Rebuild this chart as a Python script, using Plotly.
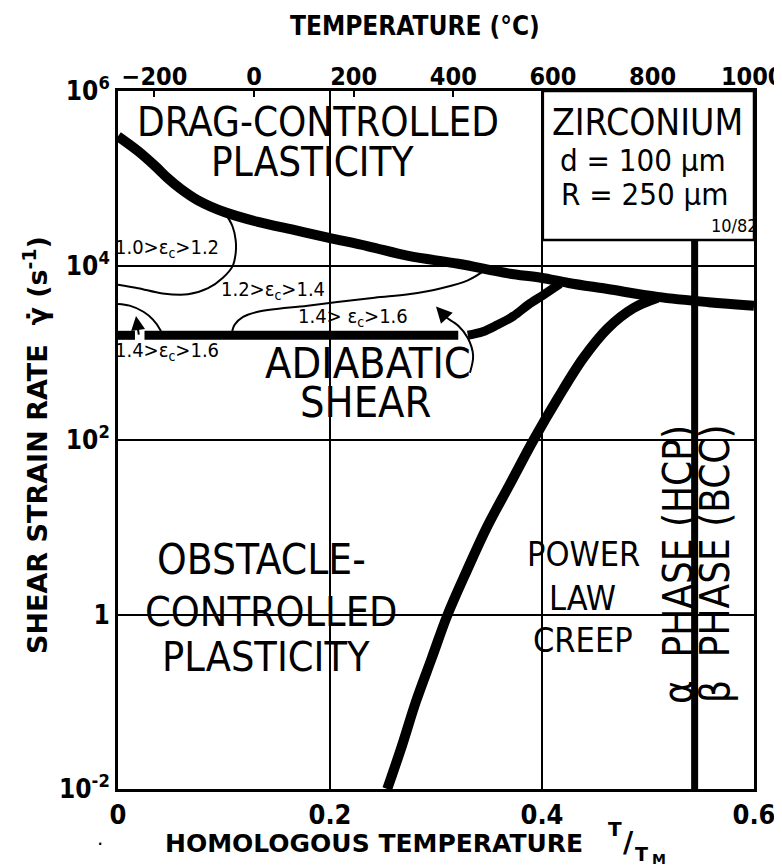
import plotly.graph_objects as go

# ---------------- data ----------------
T_MELT_K = 2128.0  # zirconium melting point, K

# drag-controlled plasticity boundary: homologous temperature, log10 shear strain rate
drag_x = [0.0, 0.019, 0.035, 0.047, 0.059, 0.075, 0.101, 0.132, 0.165, 0.198, 0.236,
          0.274, 0.321, 0.368, 0.399, 0.425, 0.462, 0.509, 0.557, 0.6]
drag_log = [5.48, 5.31, 5.14, 5.00, 4.88, 4.75, 4.61, 4.50, 4.41, 4.32, 4.22,
            4.11, 4.02, 3.91, 3.86, 3.80, 3.73, 3.64, 3.58, 3.54]

# power-law creep boundary
creep_x = [0.254, 0.268, 0.281, 0.296, 0.311, 0.329, 0.348, 0.370, 0.392, 0.415,
           0.439, 0.462, 0.486, 0.509]
creep_log = [-2.0, -1.5, -1.0, -0.5, 0.0, 0.5, 1.0, 1.5, 2.0, 2.48,
             2.94, 3.28, 3.51, 3.63]

# adiabatic shear boundary (None = gaps where arrows cross)
shear_x = [0.0, 0.016, None, 0.025, 0.321, None, 0.330, 0.344, 0.358, 0.373, 0.387, 0.401, 0.417]
shear_log = [3.20, 3.20, None, 3.20, 3.20, None, 3.20, 3.24, 3.32, 3.42, 3.55, 3.66, 3.79]

# critical strain contours
c12_x = [0.101, 0.108, 0.111, 0.111, 0.108, 0.099, 0.085, 0.066, 0.042, 0.019, 0.0]
c12_log = [4.60, 4.45, 4.29, 4.14, 3.99, 3.86, 3.74, 3.67, 3.68, 3.74, 3.78]

c14a_x = [0.0, 0.011, 0.024, 0.033, 0.040, 0.0415]
c14a_log = [3.56, 3.54, 3.47, 3.38, 3.26, 3.20]

c14b_x = [0.107, 0.110, 0.118, 0.132, 0.179, 0.242, 0.274, 0.305, 0.330, 0.349]
c14b_log = [3.20, 3.32, 3.41, 3.47, 3.54, 3.63, 3.67, 3.74, 3.83, 3.97]

# curved arrow from "ADIABATIC SHEAR" label
arrow_x = [0.332, 0.335, 0.330, 0.321, 0.308, 0.302]
arrow_log = [2.77, 2.97, 3.17, 3.31, 3.42, 3.50]

# alpha/beta phase transition
phase_x = 0.544
phase_log = [4.29, -2.0]

# axes
x_ticks = [0.0, 0.2, 0.4, 0.6]
x_ticktext = ["0", "0.2", "0.4", "0.6"]
y_ticks = [1e-2, 1, 1e2, 1e4, 1e6]
y_ticktext = ["10<sup>-2</sup>", "1", "10<sup>2</sup>", "10<sup>4</sup>", "10<sup>6</sup>"]
temp_ticks = [-200, 0, 200, 400, 600, 800, 1000]

# ---------------- figure ----------------
NARROW = "Liberation Sans Narrow, DejaVu Sans Condensed, Arial Narrow, sans-serif"
WIDE = "DejaVu Sans, Liberation Sans, sans-serif"


def lin(v):
    return [None if a is None else 10 ** a for a in v]


fig = go.Figure()
thick = dict(color="black", width=10)
thin = dict(color="black", width=2)

fig.add_trace(go.Scatter(x=drag_x, y=lin(drag_log), mode="lines", line=thick,
                         line_shape="spline", hoverinfo="skip"))
fig.add_trace(go.Scatter(x=creep_x, y=lin(creep_log), mode="lines", line=thick,
                         line_shape="spline", hoverinfo="skip"))
fig.add_trace(go.Scatter(x=shear_x, y=lin(shear_log), mode="lines",
                         line=dict(color="black", width=9), line_shape="spline",
                         connectgaps=False, hoverinfo="skip"))
for cx, cy in [(c12_x, c12_log), (c14a_x, c14a_log), (c14b_x, c14b_log), (arrow_x, arrow_log)]:
    fig.add_trace(go.Scatter(x=cx, y=lin(cy), mode="lines", line=thin,
                             line_shape="spline", hoverinfo="skip"))
fig.add_trace(go.Scatter(x=[phase_x, phase_x], y=lin(phase_log), mode="lines",
                         line=dict(color="black", width=7), hoverinfo="skip"))
# carrier for the top temperature axis
fig.add_trace(go.Scatter(x=temp_ticks, y=[1] * len(temp_ticks), xaxis="x2", mode="markers",
                         marker=dict(opacity=0), hoverinfo="skip"))

fig.update_layout(
    template="none",
    width=782, height=867,
    margin=dict(l=110, r=36, t=83, b=86, autoexpand=False),
    paper_bgcolor="white", plot_bgcolor="white",
    showlegend=False,
    xaxis=dict(range=[0, 0.6], tickvals=x_ticks, ticktext=x_ticktext, automargin=False,
               showgrid=True, gridcolor="black", gridwidth=1.5,
               showline=True, linecolor="black", linewidth=3, mirror=True,
               ticks="", zeroline=False,
               tickfont=dict(family=NARROW, size=27, color="black", weight="bold")),
    xaxis2=dict(overlaying="x", side="top", anchor="y", automargin=False,
                range=[-273.15, 0.6 * T_MELT_K - 273.15], tickvals=temp_ticks,
                ticks="inside", ticklen=6, tickwidth=2, tickcolor="black",
                showgrid=False, zeroline=False, showline=False,
                tickfont=dict(family=NARROW, size=25, color="black", weight="bold")),
    yaxis=dict(type="log", range=[-2, 6], tickvals=y_ticks, ticktext=y_ticktext,
               automargin=False,
               showgrid=True, gridcolor="black", gridwidth=1.5,
               showline=True, linecolor="black", linewidth=3, mirror=True,
               ticks="", zeroline=False,
               tickfont=dict(family=NARROW, size=26, color="black", weight="bold")),
)

# Zirconium info box
fig.add_shape(type="rect", xref="paper", yref="paper", x0=0.668, x1=1.0, y0=0.7865, y1=1.0,
              line=dict(color="black", width=2.5), fillcolor="white", layer="above")
# white masks hiding grid lines behind the region labels
masks = [
    (0.3066, 0.3538, 0.8725, 0.981),   # DRAG-CONTROLLED / PLASTICITY over T/Tm = 0.2
    (0.3066, 0.3538, 0.5244, 0.7006),  # 1.4>ec>1.6 / ADIABATIC SHEAR over T/Tm = 0.2
    (0.0393, 0.4434, 0.1562, 0.3567),  # OBSTACLE-CONTROLLED PLASTICITY
    (0.6447, 0.8176, 0.1805, 0.3668),  # POWER LAW CREEP
    (0.849, 0.962, 0.116, 0.4885),     # phase labels
]
for x0, x1, y0, y1 in masks:
    fig.add_shape(type="rect", xref="paper", yref="paper", x0=x0, x1=x1, y0=y0, y1=y1,
                  line=dict(width=0), fillcolor="white", layer="between")


def label(text, x, y, size=40, family=NARROW, angle=0, weight="normal"):
    fig.add_annotation(text=text, x=x, y=y, xref="paper", yref="paper", showarrow=False,
                       font=dict(family=family, size=size, color="black", weight=weight),
                       textangle=angle, xanchor="center", yanchor="middle", borderpad=0)


label("DRAG-CONTROLLED", 0.3145, 0.9555, size=40)
label("PLASTICITY", 0.3066, 0.898, size=40)
label("ZIRCONIUM", 0.8333, 0.9545, size=37)
label("d = 100 µm", 0.8255, 0.901, size=31)
label("R = 250 µm", 0.8286, 0.852, size=31)
label("10/82", 0.9686, 0.807, size=18)
label("1.0&gt;ε<sub>c</sub>&gt;1.2", 0.077, 0.7745, size=20)
label("1.2&gt;ε<sub>c</sub>&gt;1.4", 0.2437, 0.7145, size=20)
label("1.4&gt; ε<sub>c</sub>&gt;1.6", 0.3695, 0.6758, size=20)
label("1.4&gt;ε<sub>c</sub>&gt;1.6", 0.077, 0.6271, size=20)
label("ADIABATIC", 0.393, 0.611, size=43)
label("SHEAR", 0.3884, 0.554, size=43)
label("OBSTACLE-", 0.2264, 0.3285, size=42)
label("CONTROLLED", 0.2406, 0.254, size=41)
label("PLASTICITY", 0.2327, 0.1895, size=41)
label("POWER", 0.7327, 0.337, size=34)
label("LAW", 0.731, 0.274, size=34)
label("CREEP", 0.731, 0.214, size=34)
label("α  PHASE (HCP)", 0.8805, 0.3223, size=40, angle=-90)
label("β  PHASE (BCC)", 0.9387, 0.3223, size=40, angle=-90)

# axis titles
label("SHEAR STRAIN RATE  γ̇ (s<sup>-1</sup>)", -0.1305, 0.4928, size=27, family=WIDE,
      angle=-90, weight="bold")
label("HOMOLOGOUS TEMPERATURE", 0.4025, -0.0774, size=25, family=WIDE, weight="bold")
label("T", 0.782, -0.058, size=20, family=WIDE, weight="bold")
label("/", 0.802, -0.077, size=28, family=WIDE, weight="bold")
label("T", 0.823, -0.093, size=19, family=WIDE, weight="bold")
label("M", 0.851, -0.100, size=14, family=WIDE, weight="bold")
label("TEMPERATURE (°C)", 0.467, 1.0931, size=26, family=NARROW, weight="bold")
label("·", -0.028, -0.0788, size=20, family=WIDE)

# arrowheads
fig.add_annotation(x=0.300, y=3.53, xref="x", yref="y", text="", showarrow=True,
                   arrowhead=2, arrowsize=1.6, arrowwidth=2, arrowcolor="black",
                   ax=12, ay=13, standoff=0)
fig.add_annotation(x=0.017, y=3.42, xref="x", yref="y", text="", showarrow=True,
                   arrowhead=2, arrowsize=1.4, arrowwidth=2, arrowcolor="black",
                   ax=3, ay=20, standoff=0)

fig.write_html("out.html")
